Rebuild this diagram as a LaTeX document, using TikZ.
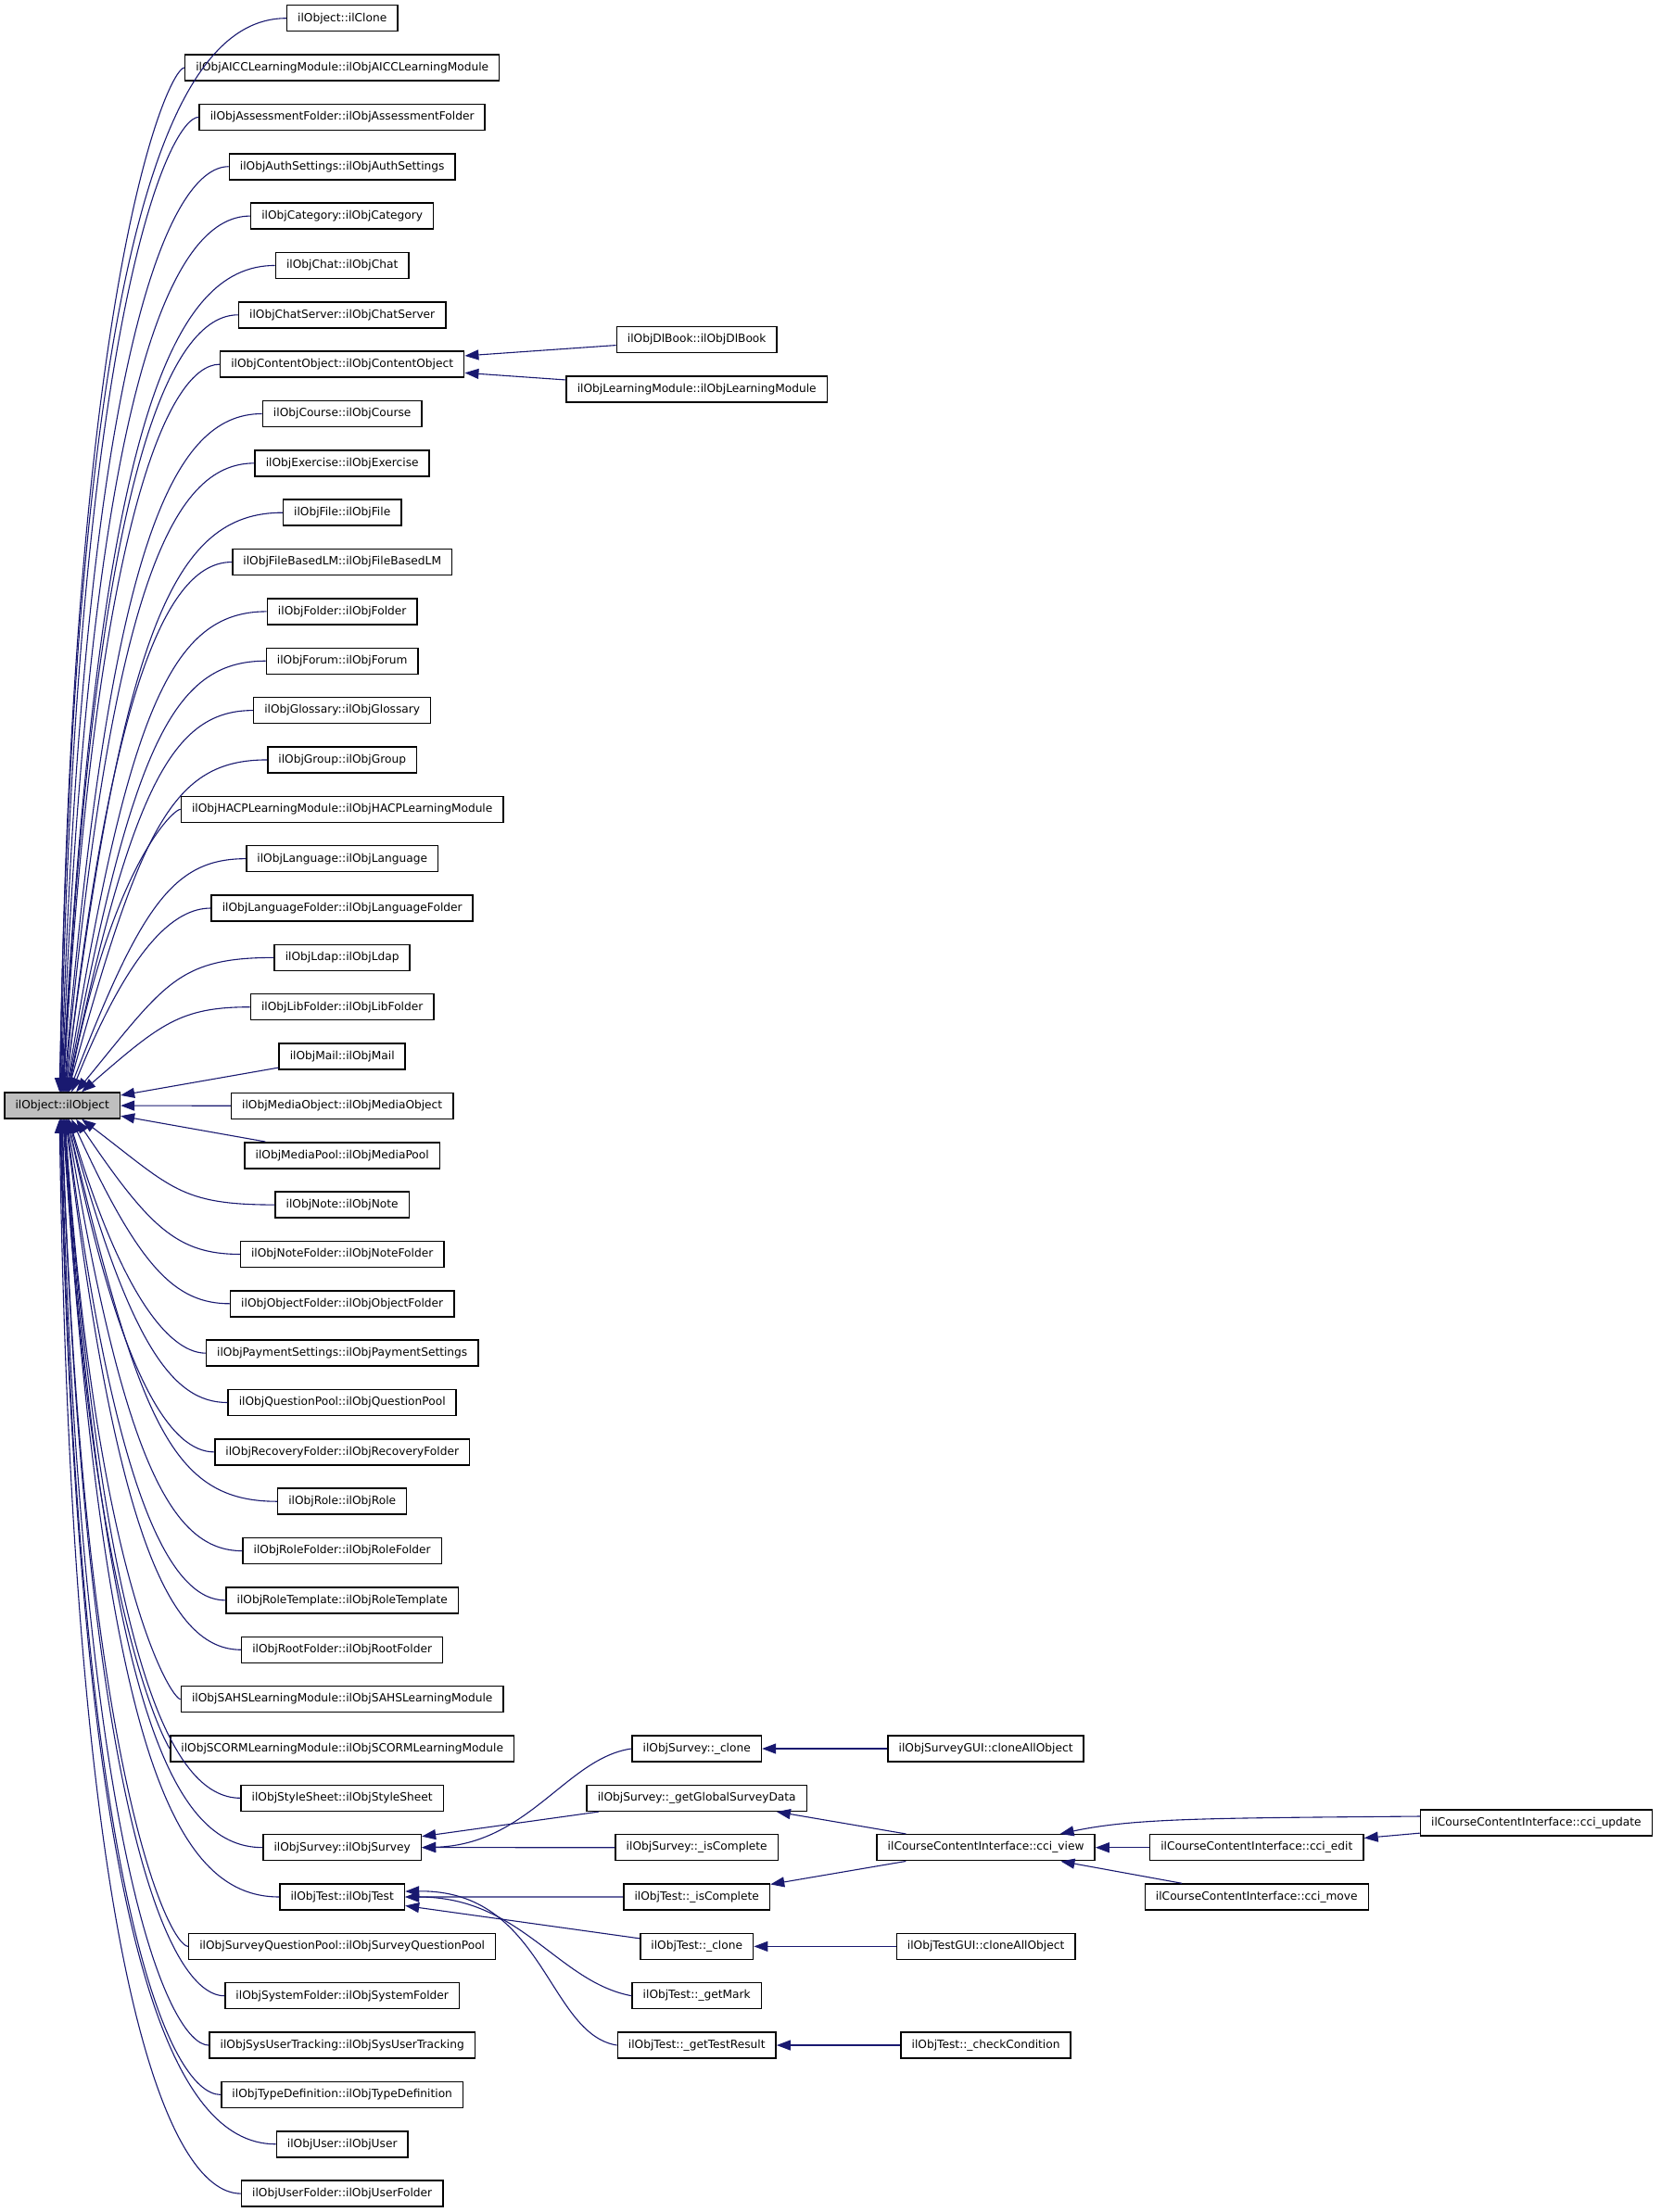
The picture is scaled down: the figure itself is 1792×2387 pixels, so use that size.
\documentclass[tikz,border=0pt]{standalone}
\usepackage{fontspec}
\setmainfont{DejaVu Sans}
\usetikzlibrary{arrows.meta, calc}
\definecolor{callblue}{HTML}{191970}
\definecolor{rootgray}{HTML}{BFBFBF}

\begin{document}
\begin{tikzpicture}[x=0.5pt, y=-0.5pt,
    member/.style={rectangle, draw=black, fill=white, line width=0.75pt, minimum height=14pt, inner xsep=5.8pt, inner ysep=0pt, font=\fontsize{6.1pt}{7pt}\selectfont},
    rootnode/.style={member, fill=rootgray},
    call/.style={draw=callblue, line width=0.55pt, -{Triangle[length=7.5pt, width=5.5pt]}}]
\useasboundingbox (0,0) rectangle (1792,2387);

\node[rootnode] (root) at (67.2,1193) {ilObject::ilObject};

% first column of callers
\foreach \i/\nm/\lbl in {0/clone/ilObject::ilClone,
    1/aicc/ilObjAICCLearningModule::ilObjAICCLearningModule,
    2/assess/ilObjAssessmentFolder::ilObjAssessmentFolder,
    3/auth/ilObjAuthSettings::ilObjAuthSettings,
    4/cat/ilObjCategory::ilObjCategory,
    5/chat/ilObjChat::ilObjChat,
    6/chatsrv/ilObjChatServer::ilObjChatServer,
    7/content/ilObjContentObject::ilObjContentObject,
    8/course/ilObjCourse::ilObjCourse,
    9/exercise/ilObjExercise::ilObjExercise,
    10/file/ilObjFile::ilObjFile,
    11/filelm/ilObjFileBasedLM::ilObjFileBasedLM,
    12/folder/ilObjFolder::ilObjFolder,
    13/forum/ilObjForum::ilObjForum,
    14/glossary/ilObjGlossary::ilObjGlossary,
    15/group/ilObjGroup::ilObjGroup,
    16/hacp/ilObjHACPLearningModule::ilObjHACPLearningModule,
    17/lang/ilObjLanguage::ilObjLanguage,
    18/langfolder/ilObjLanguageFolder::ilObjLanguageFolder,
    19/ldap/ilObjLdap::ilObjLdap,
    20/libfolder/ilObjLibFolder::ilObjLibFolder,
    21/mail/ilObjMail::ilObjMail,
    22/mediaobj/ilObjMediaObject::ilObjMediaObject,
    23/mediapool/ilObjMediaPool::ilObjMediaPool,
    24/note/ilObjNote::ilObjNote,
    25/notefolder/ilObjNoteFolder::ilObjNoteFolder,
    26/objfolder/ilObjObjectFolder::ilObjObjectFolder,
    27/payment/ilObjPaymentSettings::ilObjPaymentSettings,
    28/qpool/ilObjQuestionPool::ilObjQuestionPool,
    29/recovery/ilObjRecoveryFolder::ilObjRecoveryFolder,
    30/role/ilObjRole::ilObjRole,
    31/rolefolder/ilObjRoleFolder::ilObjRoleFolder,
    32/roletpl/ilObjRoleTemplate::ilObjRoleTemplate,
    33/rootfolder/ilObjRootFolder::ilObjRootFolder,
    34/sahs/ilObjSAHSLearningModule::ilObjSAHSLearningModule,
    35/scorm/ilObjSCORMLearningModule::ilObjSCORMLearningModule,
    36/style/ilObjStyleSheet::ilObjStyleSheet,
    37/survey/ilObjSurvey::ilObjSurvey,
    38/test/ilObjTest::ilObjTest,
    39/sqpool/ilObjSurveyQuestionPool::ilObjSurveyQuestionPool,
    40/sysfolder/ilObjSystemFolder::ilObjSystemFolder,
    41/tracking/ilObjSysUserTracking::ilObjSysUserTracking,
    42/typedef/ilObjTypeDefinition::ilObjTypeDefinition,
    43/user/ilObjUser::ilObjUser,
    44/userfolder/ilObjUserFolder::ilObjUserFolder}
  \node[member] (\nm) at (369.2,{19.7+53.35*\i}) {\lbl};

% second column
\node[member] (dlbook) at (751.7,366.5) {ilObjDlBook::ilObjDlBook};
\node[member] (lm) at (751.7,419.8) {ilObjLearningModule::ilObjLearningModule};
\node[member] (sclone) at (751.7,1887.0) {ilObjSurvey::\_clone};
\node[member] (sglobal) at (751.7,1940.3) {ilObjSurvey::\_getGlobalSurveyData};
\node[member] (sisc) at (751.7,1993.7) {ilObjSurvey::\_isComplete};
\node[member] (tisc) at (751.7,2047.0) {ilObjTest::\_isComplete};
\node[member] (tclone) at (751.7,2100.4) {ilObjTest::\_clone};
\node[member] (tmark) at (751.7,2153.7) {ilObjTest::\_getMark};
\node[member] (tresult) at (751.7,2207.0) {ilObjTest::\_getTestResult};

% third to fifth column
\node[member] (sgui) at (1063.6,1887.0) {ilObjSurveyGUI::cloneAllObject};
\node[member] (view) at (1063.6,1993.7) {ilCourseContentInterface::cci\_view};
\node[member] (tgui) at (1063.6,2100.4) {ilObjTestGUI::cloneAllObject};
\node[member] (check) at (1063.6,2207.0) {ilObjTest::\_checkCondition};
\node[member] (edit) at (1355.8,1993.7) {ilCourseContentInterface::cci\_edit};
\node[member] (move) at (1355.8,2047.0) {ilCourseContentInterface::cci\_move};
\node[member] (update) at (1657.4,1967.0) {ilCourseContentInterface::cci\_update};

% calls into the constructor
\foreach \nm/\side/\off in {clone/north/-3, aicc/north/-2.4, assess/north/-1.8,
    auth/north/-1.2, cat/north/-0.6, chat/north/0, chatsrv/north/0.6,
    content/north/1.2, course/north/1.8, exercise/north/2.4, file/north/3,
    filelm/north/3.6, folder/north/4.2, forum/north/4.8, glossary/north/5.4,
    group/north/6, hacp/north/6.6, lang/north/7.2, langfolder/north/10,
    ldap/north/15, libfolder/north/21,
    note/south/21, notefolder/south/15, objfolder/south/10, payment/south/7.2,
    qpool/south/6.6, recovery/south/6, role/south/5.4, rolefolder/south/4.8,
    roletpl/south/4.2, rootfolder/south/3.6, sahs/south/3, scorm/south/2.4,
    style/south/1.8, survey/south/1.2, test/south/0.6, sqpool/south/0,
    sysfolder/south/-0.6, tracking/south/-1.2, typedef/south/-1.8,
    user/south/-2.4, userfolder/south/-3}
  \draw[call] let \p1=(\nm.west), \p2=($(root.\side)+(\off,0)$) in
    (\p1) .. controls ({min(\x1,0.5*max(\x1,150pt)+0.5*\x2)}, \y1)
    and ({\x2+(0.5-0.37*abs(\y2-\y1)/500)*(\x1-\x2)}, {\y2+0.8*(\y1-\y2)}) .. (\p2);
\draw[call] (mail) -- (root);
\draw[call] (mediaobj) -- (root);
\draw[call] (mediapool) -- (root);

\draw[call] (dlbook) -- (content);
\draw[call] (lm) -- (content);
\draw[call] (sclone.west) .. controls +(-70,10) and +(115,-3) .. (survey.east);
\draw[call] (sglobal) -- (survey);
\draw[call] (sisc) -- (survey);
\draw[call] (tisc) -- (test);
\draw[call] (tclone) -- (test);
\draw[call] (tmark.west) .. controls +(-80,-15) and +(125,0) .. (test.east);
\draw[call] (tresult.west) .. controls +(-75,-12) and +(150,-2) .. ($(test.east)+(0,-6)$);
\draw[call] (sgui) -- (sclone);
\draw[call] (view) -- (sglobal);
\draw[call] (view) -- (tisc);
\draw[call] (tgui) -- (tclone);
\draw[call] (check) -- (tresult);
\draw[call] (edit) -- (view);
\draw[call] (move) -- (view);
\draw[call] (update) -- (edit);
\draw[call] ($(update.west)+(0,-7)$) .. controls +(-230,2) and +(80,-17) .. ($(view.north)+(80,0)$);
\end{tikzpicture}
\end{document}
